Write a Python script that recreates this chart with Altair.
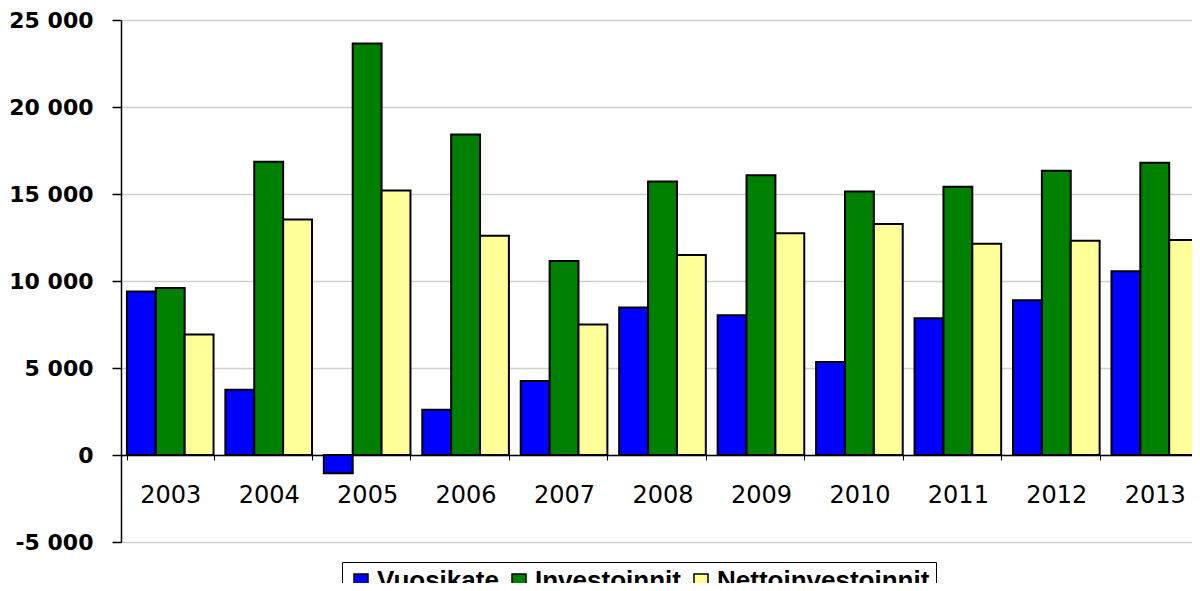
import altair as alt
import pandas as pd

years = ["2003", "2004", "2005", "2006", "2007", "2008", "2009", "2010", "2011", "2012", "2013"]
series = ["Vuosikate", "Investoinnit", "Nettoinvestoinnit"]
vuosikate = [9400, 3750, -1050, 2600, 4250, 8480, 8030, 5350, 7860, 8890, 10560]
investoinnit = [9600, 16850, 23650, 18420, 11150, 15720, 16080, 15140, 15420, 16340, 16800]
nettoinvestoinnit = [6920, 13530, 15200, 12600, 7500, 11500, 12740, 13280, 12140, 12320, 12360]
colors = ["#0000FF", "#008000", "#FFFF99"]
y_ticks = [-5000, 0, 5000, 10000, 15000, 20000, 25000]

rows = []
for i, yr in enumerate(years):
    for s, vals in zip(series, [vuosikate, investoinnit, nettoinvestoinnit]):
        rows.append({"year": yr, "series": s, "value": vals[i]})
df = pd.DataFrame(rows)

label_expr = "(datum.value < 0 ? '-' : '') + replace(format(abs(datum.value), ','), ',', ' ')"

chart = alt.Chart(df).mark_bar(stroke="black", strokeWidth=2).encode(
    x=alt.X(
        "year:N",
        sort=years,
        scale=alt.Scale(range=[0, 1083], paddingInner=0.12, paddingOuter=0.06),
        axis=alt.Axis(
            title=None, labelAngle=0, orient="bottom", offset=-87,
            domainColor="black", domainWidth=1.5,
            tickBand="extent", tickSize=5, tickColor="black", tickWidth=1,
            labelFont="DejaVu Sans", labelFontSize=24, labelColor="black",
            labelPadding=23, grid=False,
        ),
    ),
    xOffset=alt.XOffset("series:N", sort=series, scale=alt.Scale(paddingInner=0, paddingOuter=0)),
    y=alt.Y(
        "value:Q",
        scale=alt.Scale(domain=[-5000, 25000], nice=False, zero=False),
        axis=alt.Axis(
            title=None, values=y_ticks, grid=True, gridColor="#d0d0d0", gridWidth=1.5,
            domainColor="black", domainWidth=1.5,
            tickColor="black", tickSize=9, tickWidth=1.5,
            labelFont="DejaVu Sans", labelFontWeight="bold", labelFontSize=22,
            labelColor="black", labelPadding=19, labelExpr=label_expr,
        ),
    ),
    fill=alt.Fill(
        "series:N",
        sort=series,
        scale=alt.Scale(domain=series, range=colors),
        legend=alt.Legend(
            title=None, orient="none", legendX=221, legendY=542,
            direction="horizontal", strokeColor="black", padding=6,
            fillColor="white", symbolType="square", symbolSize=196,
            symbolStrokeColor="black", symbolStrokeWidth=1.5,
            labelFont="Liberation Sans", labelFontWeight="bold",
            labelFontSize=26, labelColor="black", labelOffset=3,
            columnPadding=7, labelLimit=400,
        ),
    ),
).properties(
    width=1071,
    height=522,
    autosize=alt.AutoSizeParams(type="none"),
    padding={"left": 113, "top": 12, "right": 0, "bottom": 41},
    background="white",
).configure_view(strokeWidth=0)

chart.save("out.html", embed_options={"renderer": "svg", "actions": False})
